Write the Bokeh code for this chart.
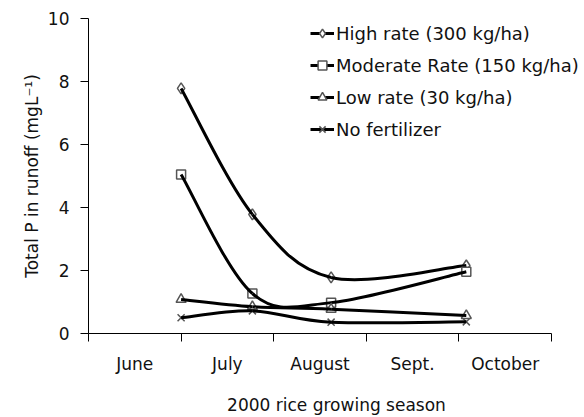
import numpy as np
from bokeh.plotting import figure
from bokeh.models import FixedTicker, Legend, LegendItem, ColumnDataSource
from bokeh.embed import file_html
from bokeh.resources import INLINE

# ---- data ----
months = ["June", "July", "August", "Sept.", "October"]
sample_pos = [1.0, 1.77, 2.62, 4.08]          # sampling dates, in month units along the axis
high_rate = [7.78, 3.78, 1.78, 2.16]
moderate_rate = [5.05, 1.27, 0.98, 1.96]
low_rate = [1.08, 0.85, 0.77, 0.57]
no_fert = [0.5, 0.72, 0.36, 0.37]
series_names = ["High rate (300 kg/ha)", "Moderate Rate (150 kg/ha)",
                "Low rate (30 kg/ha)", "No fertilizer"]
y_ticks = [0, 2, 4, 6, 8, 10]

FONT = "DejaVu Sans"
W, H = 584, 417
LEFT, TOP, BOTTOM = 88, 18, 84
n_m = len(months)
# frame extends past the last month boundary so the legend is not clipped
x_end = n_m * (W - LEFT) / 463.0

p = figure(width=W, height=H, output_backend="svg", toolbar_location=None,
           x_range=(0, x_end), y_range=(0, 10),
           min_border_left=LEFT, min_border_right=0, min_border_top=TOP,
           min_border_bottom=BOTTOM)
p.outline_line_color = None
p.xgrid.visible = False
p.ygrid.visible = False
p.background_fill_color = "white"

# x axis: month names centred in bands, boundary ticks as minor ticks
centers = [i + 0.5 for i in range(n_m)]
p.xaxis.ticker = FixedTicker(ticks=centers, minor_ticks=list(range(n_m + 1)))
p.xaxis.major_label_overrides = {c: m for c, m in zip(centers, months)}
p.xaxis.bounds = (0, n_m)
p.xaxis.major_tick_out = 0
p.xaxis.major_tick_in = 0
p.xaxis.minor_tick_out = 8
p.xaxis.minor_tick_in = 0
p.xaxis.minor_tick_line_color = "black"
p.xaxis.axis_label = "2000 rice growing season"
p.xaxis.major_label_standoff = 12
p.xaxis.axis_label_standoff = 18

p.yaxis.ticker = FixedTicker(ticks=y_ticks)
p.yaxis.major_tick_out = 8
p.yaxis.major_tick_in = 0
p.yaxis.minor_tick_line_color = None
p.yaxis.axis_label = "Total P in runoff (mgL\u207b\u00b9)"
p.yaxis.major_label_standoff = 11
p.yaxis.axis_label_standoff = 3

for ax in (p.xaxis, p.yaxis):
    ax.axis_line_color = "black"
    ax.major_tick_line_color = "black"
    ax.major_label_text_font = FONT
    ax.major_label_text_font_size = "17px"
    ax.major_label_text_color = "#111111"
    ax.axis_label_text_font = FONT
    ax.axis_label_text_font_size = "17px"
    ax.axis_label_text_font_style = "normal"
    ax.axis_label_text_color = "#111111"


def smooth_segments(xs, ys):
    """Bezier control points (Catmull-Rom style smoothing like the original spreadsheet chart)."""
    P = np.column_stack([xs, ys]).astype(float)
    n = len(P)
    ext = np.vstack([P[0], P, P[-1]])
    x0, y0, x1, y1, cx0, cy0, cx1, cy1 = [], [], [], [], [], [], [], []
    for i in range(n - 1):
        pm, a, b, pn = ext[i], ext[i + 1], ext[i + 2], ext[i + 3]
        c0 = a + (b - pm) / 6.0
        c1 = b - (pn - a) / 6.0
        x0.append(a[0]); y0.append(a[1]); x1.append(b[0]); y1.append(b[1])
        cx0.append(c0[0]); cy0.append(c0[1]); cx1.append(c1[0]); cy1.append(c1[1])
    return dict(x0=x0, y0=y0, x1=x1, y1=y1, cx0=cx0, cy0=cy0, cx1=cx1, cy1=cy1)


all_series = [high_rate, moderate_rate, low_rate, no_fert]
markers = ["diamond", "square", "triangle", "x"]
sizes = [11, 9, 10, 10]
items = []
for name, vals, mk, sz in zip(series_names, all_series, markers, sizes):
    sc = p.scatter(sample_pos, vals, marker=mk, size=sz, line_color="#555555",
                   fill_color="white", line_width=1.5)
    src = ColumnDataSource(smooth_segments(sample_pos, vals))
    bz = p.bezier(x0="x0", y0="y0", x1="x1", y1="y1", cx0="cx0", cy0="cy0",
                  cx1="cx1", cy1="cy1", source=src, line_color="black", line_width=3)
    items.append(LegendItem(label=name, renderers=[bz, sc]))

legend = Legend(items=items, location=(222, 193))
legend.border_line_color = None
legend.background_fill_alpha = 0
legend.padding = 0
legend.margin = 0
legend.spacing = 10
legend.label_height = 22
legend.glyph_height = 22
legend.glyph_width = 24
legend.label_standoff = 2
legend.label_text_font = FONT
legend.label_text_font_size = "18px"
legend.label_text_color = "#111111"
p.add_layout(legend, "center")

open("out.html", "w").write(file_html(p, INLINE))
